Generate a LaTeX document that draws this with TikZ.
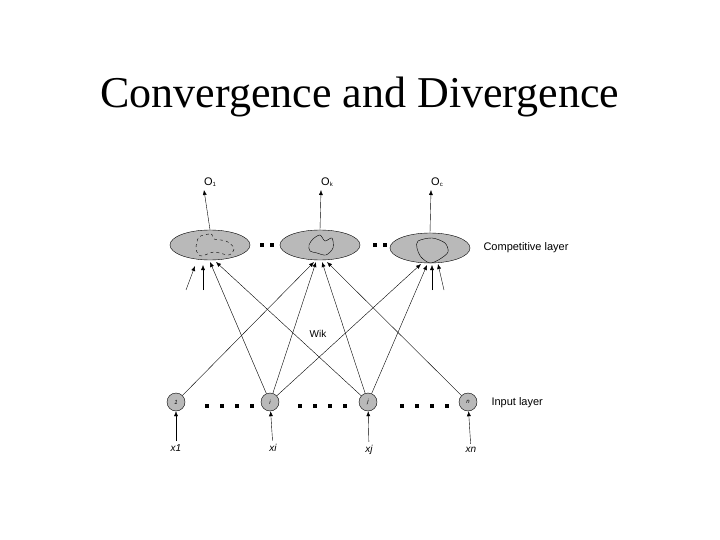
\documentclass[tikz,border=0pt]{standalone}
\usepackage{fontspec}
\setmainfont{Liberation Sans}
\newfontfamily\titlefont{Liberation Serif}
\usetikzlibrary{shapes.geometric,arrows.meta}
\begin{document}
\begin{tikzpicture}[x=1pt,y=-1pt,
  ell/.style={ellipse,draw,fill=gray!55,minimum width=80pt,minimum height=30pt,inner sep=0pt},
  inp/.style={circle,draw,fill=gray!55,minimum size=18pt,inner sep=0pt,font=\fontsize{6}{6}\selectfont\itshape},
  con/.style={-{Latex[length=5pt,width=4pt]},thin},
  lbl/.style={font=\fontsize{11}{13}\selectfont},
  sq/.style={fill=black,minimum size=3.5pt,inner sep=0pt}]
\useasboundingbox (0,0) rectangle (720,540);
\node[font=\titlefont\fontsize{44}{48}\selectfont] (title) at (360,97) {Convergence and Divergence};
% competitive layer
\node[ell] (e1) at (210,245) {};
\node[ell] (e2) at (320,245) {};
\node[ell] (e3) at (430,248) {};
\node[lbl,anchor=west] (cl) at (480,248) {Competitive layer};
\draw[dashed] plot[smooth cycle] coordinates {(199,237)(211,234)(214,239)(226,241)(234,248)(229,255)(214,252)(201,256)(196,249)};
\draw plot[smooth cycle] coordinates {(313,239)(320,235)(325,241)(332,238)(333,248)(326,255)(317,253)(310,251)(309,245)};
\draw plot[smooth cycle] coordinates {(418,241)(432,238)(445,243)(448,252)(440,259)(430,263)(421,257)(417,248)};
\foreach \x in {262,272,375,385} \node[sq] at (\x,245) {};
% outputs
\node[lbl] (o1) at (210,182) {O\raisebox{-1pt}{\fontsize{6}{6}\selectfont 1}};
\node[lbl] (ok) at (327,182) {O\raisebox{-1pt}{\fontsize{6}{6}\selectfont k}};
\node[lbl] (oc) at (437,182) {O\raisebox{-1pt}{\fontsize{6}{6}\selectfont c}};
\draw[con] (e1.north) -- (204,190);
\draw[con] (e2.north) -- (321,190);
\draw[con] (e3.north) -- (431,190);
% input layer
\node[inp] (n1) at (176,402) {1};
\node[inp] (ni) at (270,402) {i};
\node[inp] (nj) at (368,402) {j};
\node[inp] (nn) at (468,402) {n};
\node[lbl,anchor=west] (il) at (488,403) {Input layer};
\foreach \x in {207,222,237,252, 300,315,330,345, 402,417,432,447} \node[sq] at (\x,406) {};
\node[font=\itshape\fontsize{10}{10}\selectfont] (x1) at (176,448) {x1};
\node[font=\itshape\fontsize{10}{10}\selectfont] (xi) at (273,448) {xi};
\node[font=\itshape\fontsize{10}{10}\selectfont] (xj) at (369,450) {xj};
\node[font=\itshape\fontsize{10}{10}\selectfont] (xn) at (471,450) {xn};
\draw[con] (x1) -- (n1);
\draw[con] (xi) -- (ni);
\draw[con] (xj) -- (nj);
\draw[con] (xn) -- (nn);
% weights
\draw[con] (n1) -- (314,262);
\draw[con] (ni) -- (210,262);
\draw[con] (ni) -- (316,262);
\draw[con] (ni) -- (421,264);
\draw[con] (nj) -- (216,262);
\draw[con] (nj) -- (322,262);
\draw[con] (nj) -- (427,265);
\draw[con] (nn) -- (327,262);
\coordinate (s1) at (186,290);
\coordinate (s2) at (203,290);
\coordinate (s3) at (432,290);
\coordinate (s4) at (444,290);
\draw[con] (s1) -- (195,266);
\draw[con] (s2) -- (203,265);
\draw[con] (s3) -- (432,265);
\draw[con] (s4) -- (438,264);
\node[font=\fontsize{10}{10}\selectfont] (w) at (318,334) {Wik};
\end{tikzpicture}
\end{document}
